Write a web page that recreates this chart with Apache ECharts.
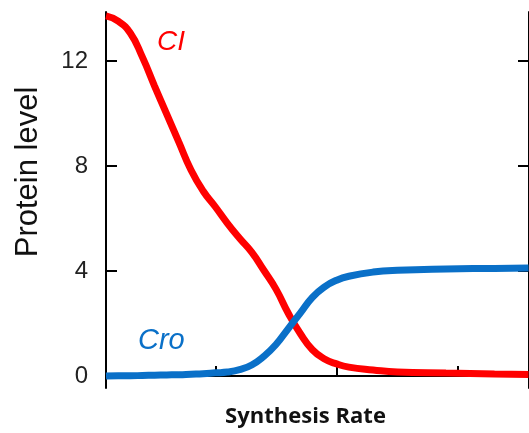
<!DOCTYPE html>
<html>
<head>
<meta charset="utf-8">
<script src="https://cdn.jsdelivr.net/npm/echarts@6/dist/echarts.min.js"></script>
<style>
  html, body { margin: 0; padding: 0; background: #fff; }
  #protein_charts { width: 529px; height: 433px; }
</style>
</head>
<body>
<div id="protein_charts"></div>
<script>
// 横坐标采样点
var rateX = [0.1, 0.2, 0.3, 0.4, 0.5, 0.6, 0.7, 0.8, 0.9, 1.0, 1.1, 1.2, 1.3, 1.4, 1.5, 1.6, 1.7, 1.8, 1.9, 2.0, 2.1, 2.3, 2.5, 2.9, 3.3, 3.58]
// CI 曲线
var ciY = [13.72, 13.52, 13.07, 12.15, 11.05, 9.98, 8.91, 7.85, 7.05, 6.45, 5.82, 5.25, 4.72, 4.03, 3.31, 2.4, 1.62, 1.0, 0.65, 0.46, 0.34, 0.23, 0.15, 0.11, 0.08, 0.06]
// Cro 曲线
var croY = [0.0, 0.01, 0.01, 0.02, 0.03, 0.04, 0.05, 0.07, 0.09, 0.12, 0.15, 0.24, 0.42, 0.75, 1.2, 1.8, 2.4, 3.0, 3.4, 3.65, 3.8, 3.96, 4.03, 4.08, 4.1, 4.12]
var xTicks = [1, 2, 3]
var yTicks = [0, 4, 8, 12]

function pairs (xs, ys) {
  return xs.map(function (x, i) { return [x, ys[i]] })
}

var font = 'Liberation Sans, Arial, sans-serif'
var myChart = echarts.init(document.getElementById('protein_charts'))

var option = {
  animation: false,
  grid: {
    left: 106,
    top: 12,
    width: 432,
    height: 376,
  },
  xAxis: {
    type: 'value',
    min: 0.1,
    max: 3.584,
    name: 'Synthesis Rate',
    nameLocation: 'middle',
    nameGap: 18,
    nameTextStyle: {
      fontFamily: 'Open Sans, sans-serif',
      fontWeight: 'bold',
      fontSize: 22,
      color: '#111',
      padding: [0, 24, 0, 0],
    },
    axisLine: { lineStyle: { color: '#000', width: 2 } },
    axisTick: {
      inside: true,
      length: 10,
      customValues: xTicks,
      lineStyle: { color: '#000', width: 2 },
    },
    axisLabel: { show: false },
    splitLine: { show: false },
  },
  yAxis: [
    {
      type: 'value',
      min: -0.457,
      max: 13.87,
      position: 'left',
      name: 'Protein level',
      nameLocation: 'middle',
      nameGap: 62,
      nameTextStyle: {
        fontFamily: font,
        fontSize: 31,
        color: '#111',
        padding: [0, 0, 0, 56],
      },
      axisLine: { show: true, onZero: false, lineStyle: { color: '#000', width: 2 } },
      axisTick: {
        inside: true,
        length: 11,
        customValues: yTicks,
        lineStyle: { color: '#000', width: 2 },
      },
      axisLabel: {
        customValues: yTicks,
        margin: 18,
        fontFamily: font,
        fontSize: 24,
        color: '#222',
      },
      splitLine: { show: false },
    },
    {
      type: 'value',
      min: -0.457,
      max: 13.87,
      position: 'right',
      axisLine: { show: true, onZero: false, lineStyle: { color: '#000', width: 2 } },
      axisTick: {
        inside: true,
        length: 11,
        customValues: yTicks,
        lineStyle: { color: '#000', width: 2 },
      },
      axisLabel: { show: false },
      splitLine: { show: false },
    },
  ],
  series: [
    {
      name: 'CI',
      type: 'line',
      smooth: true,
      symbol: 'none',
      lineStyle: { color: '#FF0000', width: 7 },
      data: pairs(rateX, ciY),
    },
    {
      name: 'Cro',
      type: 'line',
      smooth: true,
      symbol: 'none',
      lineStyle: { color: '#0A70C8', width: 7 },
      data: pairs(rateX, croY),
    },
  ],
  graphic: [
    {
      type: 'text',
      left: 157,
      top: 28,
      style: { text: 'CI', fill: '#FF0000', font: 'italic 28px ' + font },
    },
    {
      type: 'text',
      left: 138,
      top: 326,
      style: { text: 'Cro', fill: '#0A70C8', font: 'italic 29px ' + font },
    },
  ],
}
myChart.setOption(option)
</script>
</body>
</html>
